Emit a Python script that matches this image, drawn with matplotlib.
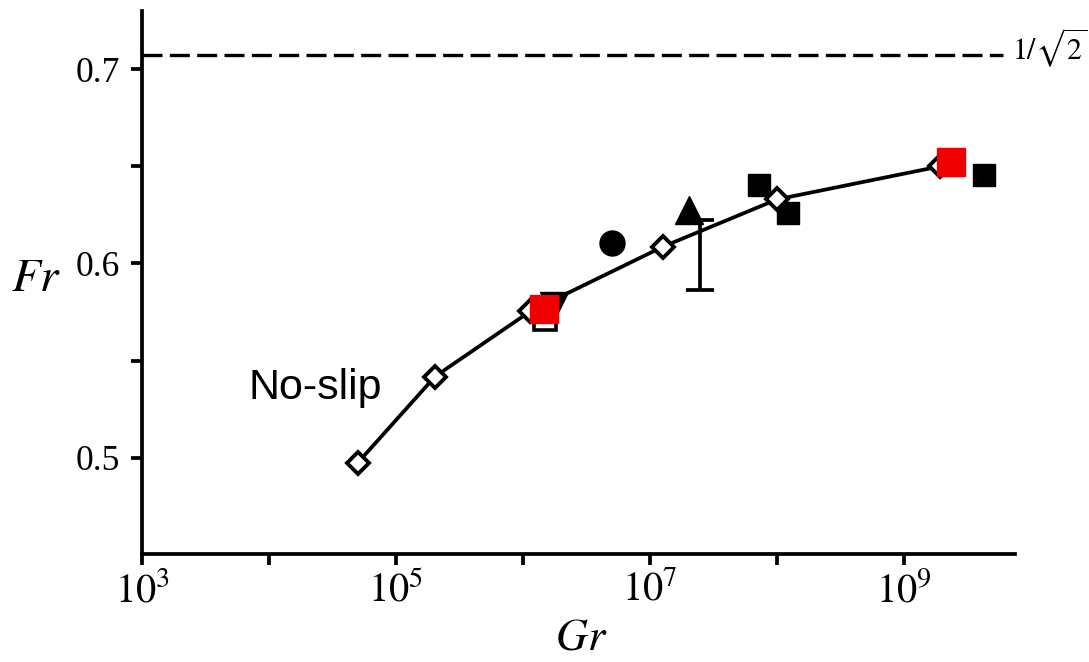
import numpy as np
import matplotlib
matplotlib.use("Agg")
import matplotlib.pyplot as plt
from matplotlib.ticker import FixedLocator, FixedFormatter
from matplotlib.transforms import blended_transform_factory

plt.rcParams["mathtext.fontset"] = "stix"
plt.rcParams["font.family"] = ["Liberation Serif", "DejaVu Serif"]

# No-slip simulation curve (open diamonds)
noslip_gr = [5.0e4, 2.03e5, 1.135e6, 1.26e7, 1.0e8, 1.92e9]
noslip_fr = [0.4974, 0.5418, 0.5753, 0.6086, 0.6330, 0.6500]

# Other datasets
red_gr = [1.46e6, 2.34e9]
red_fr = [0.5768, 0.6523]

black_sq_gr = [7.2e7, 1.21e8, 4.27e9]
black_sq_fr = [0.6402, 0.6258, 0.6456]

open_sq_gr = [1.50e6]
open_sq_fr = [0.5714]

tri_down_gr = [1.75e6]
tri_down_fr = [0.5783]

tri_up_gr = [2.01e7]
tri_up_fr = [0.6276]

circle_gr = [4.99e6]
circle_fr = [0.6107]

errbar_gr = [2.48e7]
errbar_fr = [0.6045]
errbar_err = [0.0179]

limit_fr = 1 / np.sqrt(2)

fig = plt.figure(figsize=(10.89, 6.62), dpi=100)
ax = fig.add_axes([0.1304, 0.1631, 0.8017, 0.8203])
ax.set_xscale("log")
ax.set_xlim(1e3, 10 ** 9.874)
ax.set_ylim(0.4504, 0.730)

lw = 2.7

# 1/sqrt(2) reference line
ax.plot([1e3, 10 ** 9.78], [limit_fr, limit_fr], color="black", lw=2.4,
        dashes=(6.0, 2.2), solid_capstyle="butt", zorder=2)
tr = blended_transform_factory(ax.transAxes, ax.transData)
ax.text(0.997, limit_fr + 0.0035, r"$1/\sqrt{2}$", transform=tr,
        fontsize=21.5, ha="left", va="center", clip_on=False)

# filled black markers
ax.plot(black_sq_gr, black_sq_fr, "s", color="black", ms=15.5, ls="none", zorder=3)
ax.plot(circle_gr, circle_fr, "o", color="black", ms=18, ls="none", zorder=3)
ax.plot(tri_up_gr, tri_up_fr, "^", color="black", ms=19.5, ls="none", zorder=3)
ax.plot(tri_down_gr, tri_down_fr, "v", color="black", ms=20, ls="none", zorder=3)
ax.plot(open_sq_gr, open_sq_fr, "s", mfc="white", mec="black", mew=2.6,
        ms=16, ls="none", zorder=3)

# error bar
ax.errorbar(errbar_gr, errbar_fr, yerr=errbar_err, fmt="none", ecolor="black",
            elinewidth=lw, capsize=10, capthick=lw, zorder=4)

# no-slip curve
ax.plot(noslip_gr, noslip_fr, "-", color="black", lw=lw, zorder=5)
ax.plot(noslip_gr, noslip_fr, "D", mfc="white", mec="black", mew=2.8,
        ms=11, ls="none", zorder=6)

# red squares
ax.plot(red_gr, red_fr, "s", color="#ee0000", ms=20, ls="none", zorder=7)

ax.text(2.3e4, 0.536, "No-slip", fontsize=31, ha="center", va="center",
        family=["Liberation Sans", "DejaVu Sans"])

# axes styling
for side in ("top", "right"):
    ax.spines[side].set_visible(False)
for side in ("left", "bottom"):
    ax.spines[side].set_linewidth(lw)

xt = [1e3, 1e4, 1e5, 1e6, 1e7, 1e8, 1e9]
xl = [r"$10^{3}$", "", r"$10^{5}$", "", r"$10^{7}$", "", r"$10^{9}$"]
ax.xaxis.set_major_locator(FixedLocator(xt))
ax.xaxis.set_major_formatter(FixedFormatter(xl))
ax.xaxis.set_minor_locator(FixedLocator([]))

yt = [0.5, 0.55, 0.6, 0.65, 0.7]
yl = ["0.5", "", "0.6", "", "0.7"]
ax.yaxis.set_major_locator(FixedLocator(yt))
ax.yaxis.set_major_formatter(FixedFormatter(yl))

ax.tick_params(axis="both", direction="out", length=8, width=lw, color="black")
ax.tick_params(axis="x", labelsize=29, pad=5)
ax.tick_params(axis="y", labelsize=25.5, pad=8)

ax.set_xlabel("$Gr$", fontsize=32)
ax.xaxis.set_label_coords(0.503, -0.155)
ax.xaxis.label.set_va("center")
ax.set_ylabel("$Fr$", fontsize=34, rotation=0)
ax.yaxis.set_label_coords(-0.1214, 0.5046)
ax.yaxis.label.set_va("center")
ax.yaxis.label.set_ha("center")

fig.savefig("out.png", dpi=100)
